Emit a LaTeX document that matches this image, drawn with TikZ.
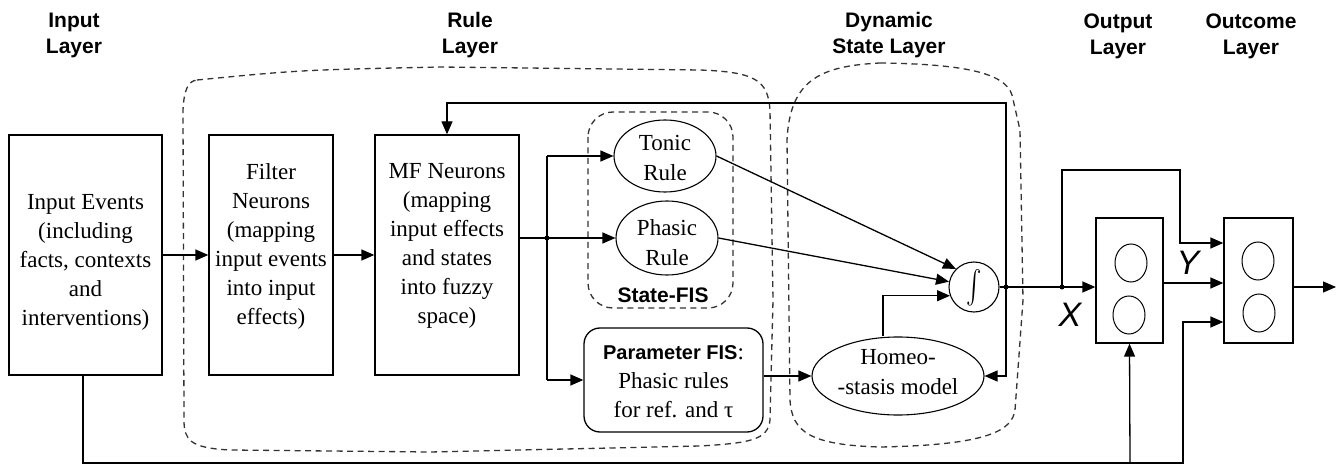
\documentclass[tikz,border=0pt]{standalone}
\usepackage{fontspec}
\setmainfont{Liberation Serif}
\setsansfont{Liberation Sans}
\usetikzlibrary{shapes.geometric,arrows.meta,calc}
\begin{document}
\begin{tikzpicture}[x=1pt,y=-1pt,
  blk/.style={draw,line width=1.3pt,rectangle,inner sep=0pt},
  ell/.style={draw,line width=1.1pt,ellipse,inner sep=0pt},
  txt/.style={align=center,inner sep=0pt,font=\fontsize{23}{29}\selectfont},
  ttl/.style={align=center,inner sep=0pt,font=\sffamily\bfseries\fontsize{21}{26}\selectfont},
  conn/.style={line width=1.3pt,-{Triangle[length=13pt,width=11pt]}},
  plain/.style={line width=1.3pt},
  region/.style={dash pattern=on 6pt off 4.5pt,line width=1.3pt,black!80},
  dotn/.style={circle,fill,inner sep=0pt,minimum size=5pt},
  xy/.style={inner sep=0pt,font=\sffamily\itshape\fontsize{34}{34}\selectfont}]
\useasboundingbox (0,0) rectangle (1336,465);

% titles
\node[ttl] (t1) at (74,35) {Input\\Layer};
\node[ttl] (t2) at (470,35) {Rule\\Layer};
\node[ttl] (t3) at (889,35) {Dynamic\\State Layer};
\node[ttl] (t4) at (1118,36) {Output\\Layer};
\node[ttl] (t5) at (1251,36) {Outcome\\Layer};

% dashed regions
\draw[region] (197,80) .. controls (300,70) .. (440,67) -- (700,70)
  .. controls (755,72) and (768,80) .. (770,110) -- (773,300) -- (770,420)
  .. controls (768,440) and (750,443) .. (700,446) -- (430,452) -- (230,450)
  .. controls (190,448) and (184,440) .. (184,420) -- (183,110)
  .. controls (184,90) and (188,81) .. (197,80);
\draw[region] (880,63) .. controls (960,64) and (1005,72) .. (1012,95)
  -- (1020,130) -- (1023,300) -- (1015,410)
  .. controls (1012,430) and (990,445) .. (880,447)
  .. controls (810,445) and (792,432) .. (790,400) -- (787,140)
  .. controls (790,80) and (820,66) .. (880,63);
\draw[region,rounded corners=25pt] (588,112) rectangle (733,308);
\node[ttl,font=\sffamily\bfseries\fontsize{21}{24}\selectfont] (sfis) at (663,295) {State-FIS};

% boxes
\node[blk,minimum width=153pt,minimum height=240pt] (inp) at (85.5,255) {};
\node[txt] (inpt) at (85.5,262) {Input Events\\(including\\facts, contexts\\and\\interventions)};
\node[blk,minimum width=124pt,minimum height=240pt] (filt) at (271,255) {};
\node[txt] (filtt) at (271,246) {Filter\\Neurons\\(mapping\\input events\\into input\\effects)};
\node[blk,minimum width=144pt,minimum height=240pt] (mf) at (447,255) {};
\node[txt] (mft) at (447,246) {MF Neurons\\(mapping\\input effects\\and states\\into fuzzy\\space)};

\node[ell,minimum width=102pt,minimum height=72pt] (tonic) at (665,156) {};
\node[txt,font=\fontsize{23}{30}\selectfont] (tonict) at (665,158) {Tonic\\Rule};
\node[ell,minimum width=102pt,minimum height=74pt] (phasic) at (667,238) {};
\node[txt,font=\fontsize{23}{30}\selectfont] (phasict) at (667,243) {Phasic\\Rule};

\node[draw,line width=1.3pt,rounded corners=16pt,minimum width=179pt,minimum height=104pt,inner sep=0pt] (param) at (673.5,380) {};
\node[txt] (paramt) at (673.5,382) {{\sffamily\bfseries\fontsize{20}{24}\selectfont Parameter FIS}:\\Phasic rules\\for ref. and τ};

\node[ell,minimum width=172pt,minimum height=78pt] (homeo) at (898,376) {};
\node[txt,font=\fontsize{23}{30}\selectfont] (homeot) at (898,372) {Homeo-\\-stasis model};

\node[circle,draw,line width=1.1pt,minimum size=50pt,inner sep=0pt] (integ) at (974,287) {};
\node[inner sep=0pt] (intt) at (974,288) {\scalebox{2.3}[3.3]{\(\int\)}};

\node[blk,minimum width=67pt,minimum height=125pt] (outb) at (1129.5,280.5) {};
\node[ell,line width=1pt,minimum width=32pt,minimum height=38pt] (o1) at (1131,263) {};
\node[ell,line width=1pt,minimum width=32pt,minimum height=38pt] (o2) at (1129,315) {};
\node[blk,minimum width=69pt,minimum height=125pt] (outc) at (1258.5,280.5) {};
\node[ell,line width=1pt,minimum width=32pt,minimum height=38pt] (c1) at (1258,261) {};
\node[ell,line width=1pt,minimum width=32pt,minimum height=38pt] (c2) at (1259,313) {};

\node[xy] (xl) at (1070,315) {X};
\node[xy] (yl) at (1188,263) {Y};

% coordinates
\coordinate (d1) at (547,238);
\coordinate (v1) at (547,156);
\coordinate (v2) at (547,380);
\coordinate (j1) at (1006,287);
\coordinate (j2) at (1062,287);
\coordinate (tp) at (1006,103);
\coordinate (k1) at (1062,170);
\coordinate (k2) at (1180,170);
\coordinate (b1) at (83,463);
\coordinate (b2) at (1130,463);
\coordinate (b3) at (1183,463);
\coordinate (endo) at (1336,287);

% connectors
\draw[conn] (inp.east) -- (filt.west);
\draw[conn] (filt.east) -- (mf.west);
\draw[plain] (mf.east |- d1) -- (d1);
\draw[plain] (v1) -- (v2);
\draw[conn] (v1) -- (tonic.west);
\draw[conn] (d1) -- (phasic.west);
\draw[conn] (v2) -- (param.west);
\draw[conn] (param.east |- homeo.west) -- (homeo.west);
\draw[conn] (tonic.east) -- (integ.135);
\draw[conn] (phasic.east) -- (integ.168);
\draw[conn] ([xshift=-15pt]homeo.north) |- (integ.200);
\draw[plain] (integ.east) -- (j1);
\draw[conn] (j1) -- (outb.west |- j1);
\draw[conn] (j1) -- (tp) -| (mf.north);
\draw[conn] (j1) |- (homeo.east);
\draw[conn] (j2) -- (k1) -- (k2) |- ([yshift=37.5pt]outc.west);
\draw[conn] ([yshift=-2.5pt]outb.east) -- ([yshift=-2.5pt]outc.west);
\draw[conn] (outc.east |- endo) -- (endo);
\draw[conn] (inp.south -| b1) -- (b1) -- (b3) |- ([yshift=-41.5pt]outc.west);
\draw[conn] (b2) -- (outb.south);

\node[dotn] (dt1) at (d1) {};
\node[dotn] (dt2) at (j1) {};
\node[dotn] (dt3) at (j2) {};
\end{tikzpicture}
\end{document}
